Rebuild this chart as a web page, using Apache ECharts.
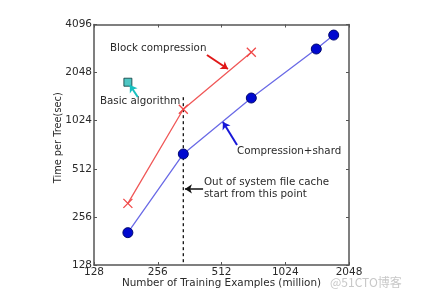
<!DOCTYPE html>
<html><head><meta charset="utf-8">
<script src="https://cdn.jsdelivr.net/npm/echarts@6/dist/echarts.min.js"></script>
<style>html,body{margin:0;padding:0;background:#fff}#c{width:428px;height:300px}</style>
</head><body><div id="c"></div>
<script>
// Data (x: training examples in million, y: time per tree in sec)
const blockX = [185, 338, 708];
const blockY = [311, 1207, 2743];
const shardX = [185, 338, 708, 1435, 1734];
const shardY = [204, 634, 1420, 2877, 3518];
const basicX = [185];
const basicY = [1783];
const cacheLineX = [338, 338];
const cacheLineY = [1437, 128];
const xTickLabels = [128, 256, 512, 1024, 2048];
const yTickLabels = [128, 256, 512, 1024, 2048, 4096];
// annotation arrows in data coordinates [from, to]
const arrowBlock = [[437, 2639], [549, 2157]];
const arrowBasic = [[206, 1441], [189, 1712]];
const arrowShard = [[606, 721], [520, 1005]];
const arrowCache = [[419, 383], [344, 383]];

const zip = (a, b) => a.map((v, i) => [v, b[i]]);
const FONT = 'DejaVu Sans';
const TXT = '#2a2a2a';
const FRAME = '#555';

const chart = echarts.init(document.getElementById('c'), null, {renderer: 'canvas'});

function axisBase(extra) {
  return Object.assign({
    type: 'log', logBase: 2,
    axisLine: {show: true, lineStyle: {color: FRAME, width: 1.5}},
    axisTick: {show: true, inside: true, length: 3, lineStyle: {color: FRAME, width: 1}},
    splitLine: {show: false},
    axisLabel: {show: false}
  }, extra);
}

const option = {
  animation: false,
  backgroundColor: '#fff',
  grid: {left: 94, right: 79, top: 24.5, bottom: 35},
  xAxis: [
    axisBase({
      min: xTickLabels[0], max: xTickLabels[xTickLabels.length - 1],
      position: 'bottom',
      name: 'Number of Training Examples (million)',
      nameLocation: 'middle', nameGap: 13, nameMoveOverlap: false,
      nameTextStyle: {fontFamily: FONT, fontSize: 10.4, color: TXT},
      axisLabel: {show: true, margin: 2, fontFamily: FONT, fontSize: 10.5, color: TXT,
        formatter: v => String(Math.round(v))}
    }),
    axisBase({min: xTickLabels[0], max: xTickLabels[xTickLabels.length - 1], position: 'top'})
  ],
  yAxis: [
    axisBase({
      min: yTickLabels[0], max: yTickLabels[yTickLabels.length - 1],
      position: 'left',
      name: 'Time per Tree(sec)',
      nameLocation: 'middle', nameGap: 31, nameMoveOverlap: false,
      nameTextStyle: {fontFamily: FONT, fontSize: 9.8, color: TXT, padding: [0, 0, 0, 14]},
      axisLabel: {show: true, margin: 2, fontFamily: FONT, fontSize: 10.5, color: TXT,
        formatter: v => String(Math.round(v))}
    }),
    axisBase({min: yTickLabels[0], max: yTickLabels[yTickLabels.length - 1], position: 'right'})
  ],
  series: [
    {
      type: 'line', name: 'cache', data: zip(cacheLineX, cacheLineY),
      symbol: 'none', lineStyle: {color: '#111', width: 1.3, type: [3, 3]}, z: 1
    },
    {
      type: 'line', name: 'Block compression', data: zip(blockX, blockY),
      symbol: 'path://M0,0L10,10M10,0L0,10', symbolSize: 9,
      itemStyle: {color: 'rgba(0,0,0,0)', borderColor: '#f04848', borderWidth: 1.3},
      lineStyle: {color: '#f05858', width: 1.3}, z: 3
    },
    {
      type: 'line', name: 'Compression+shard', data: zip(shardX, shardY),
      symbol: 'circle', symbolSize: 10,
      itemStyle: {color: '#0008d0', borderColor: '#000870', borderWidth: 1},
      lineStyle: {color: '#6a6ae6', width: 1.3}, z: 3
    },
    {
      type: 'scatter', name: 'Basic algorithm', data: zip(basicX, basicY),
      symbol: 'rect', symbolSize: 8,
      itemStyle: {color: '#22b8b4', borderColor: '#0a3a3a', borderWidth: 1}, z: 4
    },
    {
      type: 'lines', coordinateSystem: 'cartesian2d', z: 5,
      symbol: ['none', 'arrow'], symbolSize: 7,
      data: [
        {coords: arrowBlock, lineStyle: {color: '#e01818', width: 2, opacity: 1}},
        {coords: arrowBasic, lineStyle: {color: '#18c0c0', width: 2, opacity: 1}},
        {coords: arrowShard, lineStyle: {color: '#1818d8', width: 2, opacity: 1}},
        {coords: arrowCache, lineStyle: {color: '#111', width: 1.5, opacity: 1}}
      ]
    }
  ],
  graphic: [
    {type: 'text', left: 110, top: 43, style: {text: 'Block compression', font: '10.3px "DejaVu Sans"', fill: TXT}},
    {type: 'text', left: 100, top: 96, style: {text: 'Basic algorithm', font: '10.3px "DejaVu Sans"', fill: TXT}},
    {type: 'text', left: 237, top: 146, style: {text: 'Compression+shard', font: '10.3px "DejaVu Sans"', fill: TXT}},
    {type: 'text', left: 204, top: 176, style: {text: 'Out of system file cache\nstart from this point', font: '10.3px "DejaVu Sans"', fill: TXT, lineHeight: 12}},
    {type: 'text', left: 330, top: 276, style: {text: '@51CTO博客', font: '12px "Noto Sans CJK SC"', fill: '#c8c8c8'}}
  ]
};
chart.setOption(option);
</script>
</body></html>
